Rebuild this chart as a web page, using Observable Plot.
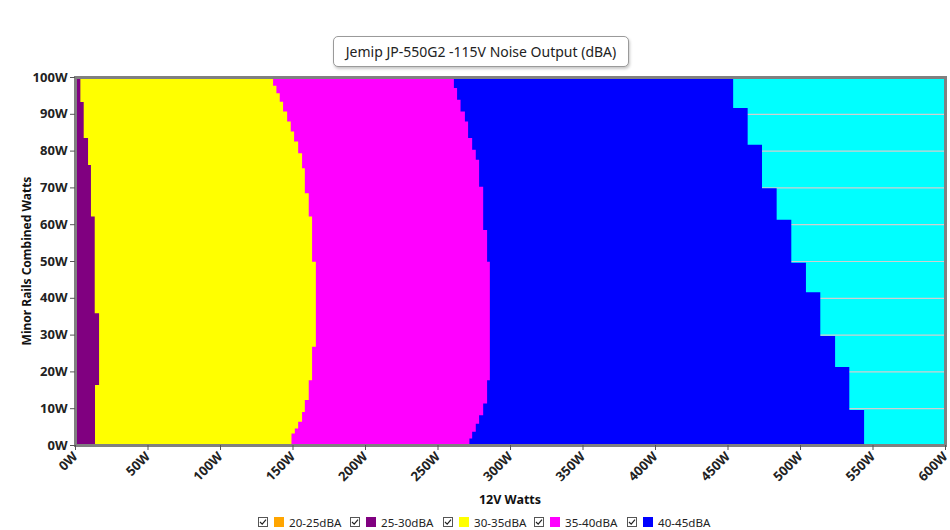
<!DOCTYPE html>
<html><head><meta charset="utf-8">
<script src="https://cdn.jsdelivr.net/npm/d3@7"></script>
<script src="https://cdn.jsdelivr.net/npm/@observablehq/plot@0.6"></script>
<style>
body{margin:0;background:#fff;font-family:"Noto Sans",sans-serif;}
#wrap{position:relative;width:950px;height:530px;overflow:hidden;}
#title{position:absolute;left:333px;top:36px;width:296px;height:31px;box-sizing:border-box;border:1px solid #9a9a9a;border-radius:5px;box-shadow:1px 2px 3px rgba(0,0,0,0.22);font-size:14px;line-height:29px;text-align:center;color:#222;background:#fff;white-space:nowrap}
#ylab{position:absolute;left:26px;top:261px;transform:translate(-50%,-50%) rotate(-90deg);font-size:12px;font-weight:bold;color:#111;white-space:nowrap}
#xlab{position:absolute;left:510px;top:499px;transform:translate(-50%,-50%);font-size:12.5px;font-weight:bold;color:#111;white-space:nowrap}
.leg{position:absolute;top:514px;display:flex;align-items:center;font-size:11.6px;color:#222;white-space:nowrap;height:16px}
.leg svg{margin-right:6px}
.leg .sw{display:inline-block;width:10px;height:10px;margin-right:5px}
</style>
</head><body>
<div id="wrap">
<div id="chart"></div>
<div id="title">Jemip JP-550G2 -115V Noise Output (dBA)</div>
<div id="ylab">Minor Rails Combined Watts</div>
<div id="xlab">12V Watts</div>
<div id="legend"></div>
</div>
<script>
// Axis ticks
const xTicks = [0,50,100,150,200,250,300,350,400,450,500,550,600];
const yTicks = [0,10,20,30,40,50,60,70,80,90,100];
const gridY = [10,20,30,40,50,60,70,80,90];

// Legend
const bandLabels = ["20-25dBA","25-30dBA","30-35dBA","35-40dBA","40-45dBA"];
const bandColors = ["#ffa500","#800080","#ffff00","#ff00ff","#0000ff"];
const legendLeft = [258,350,443,534,627];

// Right edge (12V W) of each noise band, as step segments over minor-rail W
// 25-30 dBA
const purpleY = [0,16.3,35.8,62.1,76.1,83.4,93.2,100];
const purpleX = [13.8,16.6,13.6,11.0,9.0,6.0,3.7];
// 30-35 dBA
const yellowY = [0,3.1,4.5,6.3,9.0,12.2,17.6,26.7,49.8,62.1,68.4,75.2,79.3,82.5,85.2,87.9,90.6,93.3,95.6,97.6,100];
const yellowX = [149.3,151.6,153.9,156.6,158.5,161.2,163.5,166.1,163.5,161.2,158.5,156.6,153.9,151.1,148.8,146.3,143.5,141.2,138.9,136.6];
// 35-40 dBA
const magentaY = [0,1.8,3.6,5.8,8.1,11.3,17.6,49.8,58.4,70.2,77.5,80.2,83.4,87.9,90.6,93.8,97.0,100];
const magentaX = [272.0,273.9,276.4,278.7,281.5,284.2,286.1,284.2,281.5,278.7,276.4,273.9,271.1,268.9,265.9,263.5,261.3];
// 40-45 dBA
const blueY = [0,9.5,21.2,29.6,41.5,49.5,61.2,69.8,81.6,91.6,100];
const blueX = [544.2,534.0,524.2,514.0,504.1,494.0,483.9,473.8,463.9,453.9];

function steps(Y, X) {
  const pts = [];
  for (let i = 0; i < X.length; i++) {
    pts.push({y: Y[i], x0: 0, x: X[i]});
    pts.push({y: Y[i+1], x0: 0, x: X[i]});
  }
  return pts;
}

const band = (Y, X, color) => Plot.areaX(steps(Y, X), {y: "y", x1: "x0", x2: "x", fill: color});

const chart = Plot.plot({
  width: 950, height: 530,
  marginLeft: 75, marginRight: 5, marginTop: 77, marginBottom: 85,
  x: {domain: [0, 600]},
  y: {domain: [0, 100]},
  style: {fontFamily: "Noto Sans, sans-serif", fontSize: "13px", fontWeight: "bold", color: "#222", background: "transparent"},
  marks: [
    Plot.frame({fill: "#00ffff"}),
    Plot.ruleY(gridY, {stroke: "#cfcfcf", strokeWidth: 1.2}),
    band(blueY, blueX, bandColors[4]),
    band(magentaY, magentaX, bandColors[3]),
    band(yellowY, yellowX, bandColors[2]),
    band(purpleY, purpleX, bandColors[1]),
    Plot.frame({stroke: "#808080", strokeWidth: 3}),
    Plot.axisX({ticks: xTicks, tickFormat: d => d + "W", tickRotate: -45, tickSize: 5, tickPadding: 4, stroke: "#555", fontSize: 13, fontWeight: "bold", label: null}),
    Plot.axisY({ticks: yTicks, tickFormat: d => d + "W", tickSize: 5, tickPadding: 3, stroke: "#555", fontSize: 13, fontWeight: "bold", label: null})
  ]
});
document.getElementById("chart").appendChild(chart);

const leg = document.getElementById("legend");
bandLabels.forEach((lab, i) => {
  const d = document.createElement("div");
  d.className = "leg";
  d.style.left = legendLeft[i] + "px";
  d.innerHTML = `<svg width="10" height="10" viewBox="0 0 10 10"><rect x="0.5" y="0.5" width="9" height="9" fill="#fff" stroke="#555"/><path d="M2 5 L4.2 7.2 L8 2.6" fill="none" stroke="#222" stroke-width="1.2"/></svg><span class="sw" style="background:${bandColors[i]}"></span><span>${lab}</span>`;
  leg.appendChild(d);
});
</script>
</body></html>
